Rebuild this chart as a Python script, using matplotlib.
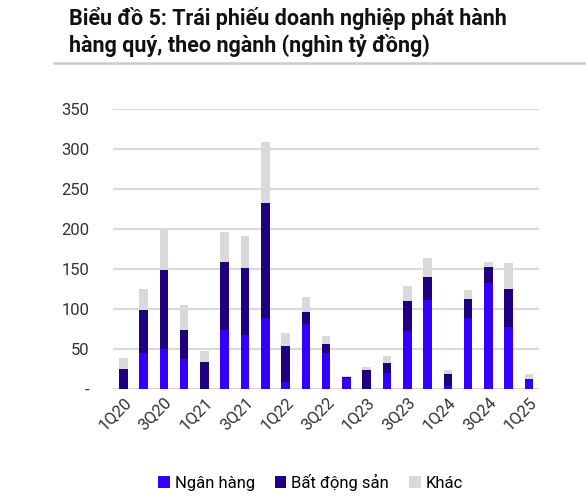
import numpy as np
import matplotlib.pyplot as plt

plt.rcParams['font.family'] = ['Roboto', 'DejaVu Sans']

quarters = ['1Q20', '2Q20', '3Q20', '4Q20', '1Q21', '2Q21', '3Q21', '4Q21',
            '1Q22', '2Q22', '3Q22', '4Q22', '1Q23', '2Q23', '3Q23', '4Q23',
            '1Q24', '2Q24', '3Q24', '4Q24', '1Q25']
ngan_hang = [0, 45, 50, 37, 0, 73, 67, 89, 8, 81, 45, 14, 0, 20, 72, 111, 4, 89, 132, 77, 12]
bat_dong_san = [25, 54, 99, 36, 33, 85, 84, 143, 46, 15, 11, 1, 23, 12, 38, 29, 14, 23, 20, 48, 0]
khac = [14, 26, 50, 32, 14, 38, 40, 76, 16, 19, 10, 1, 4, 9, 18, 23, 5, 11, 7, 32, 7]
title_lines = ['Biểu đồ 5: Trái phiếu doanh nghiệp phát hành',
               'hàng quý, theo ngành (nghìn tỷ đồng)']

c_nh = '#3300FF'
c_bds = '#1F0080'
c_khac = '#D9D9D9'

fig = plt.figure(figsize=(5.86, 5.01), dpi=100)
ax = fig.add_axes([0.193, 0.224, 0.727, 0.559])

x = np.arange(len(quarters))
nh = np.array(ngan_hang)
bds = np.array(bat_dong_san)
w = 0.42
ax.bar(x, nh, w, color=c_nh, label='Ngân hàng', zorder=3)
ax.bar(x, bds, w, bottom=nh, color=c_bds, label='Bất động sản', zorder=3)
ax.bar(x, khac, w, bottom=nh + bds, color=c_khac, label='Khác', zorder=3)

ax.set_xlim(-0.5, len(quarters) - 0.5)
ax.set_ylim(0, 350)
yt = np.arange(0, 351, 50)
ax.set_yticks(yt)
ax.set_yticklabels(['-'] + [str(v) for v in yt[1:]], fontsize=12, color='#333333')
ax.yaxis.grid(True, color='#D9D9D9', linewidth=1.5, zorder=0)
ax.set_axisbelow(True)
ax.tick_params(axis='y', length=0, pad=17)
ax.tick_params(axis='x', length=0, pad=4)
ax.set_xticks(x[::2])
ax.set_xticklabels(quarters[::2], rotation=45, ha='right', rotation_mode='anchor',
                   fontsize=12, color='#333333')
for s in ax.spines.values():
    s.set_visible(False)

# title, two lines
fig.text(0.118, 0.950, title_lines[0], fontsize=15.5, fontweight='bold',
         va='baseline', ha='left', color='#111111')
fig.text(0.118, 0.896, title_lines[1], fontsize=15.5, fontweight='bold',
         va='baseline', ha='left', color='#111111')
fig.add_artist(plt.Line2D([0.092, 1.0], [0.874, 0.874], color='#CCCCCC', linewidth=1.8))

fig.legend(loc='center', bbox_to_anchor=(0.53, 0.037), ncol=3, frameon=False,
           fontsize=12, handlelength=0.7, handleheight=0.7, handletextpad=0.3,
           columnspacing=1.2)

fig.savefig('out.png', dpi=100, facecolor='white')
